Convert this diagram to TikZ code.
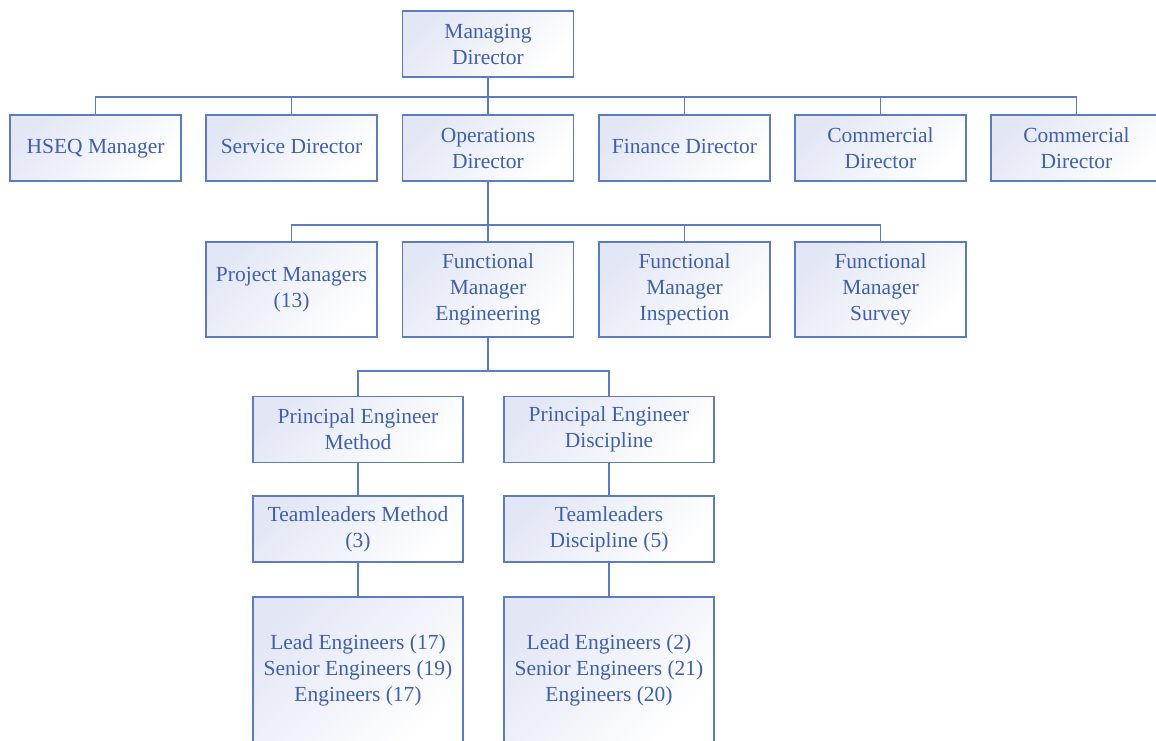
\documentclass[tikz,border=0pt]{standalone}
\usepackage{fontspec}
\setmainfont{Liberation Serif}
\definecolor{edge}{HTML}{5B7CC4}
\definecolor{ink}{HTML}{3F60AE}
\definecolor{lav}{HTML}{E3E7F5}
\begin{document}
\begin{tikzpicture}[x=1pt,y=-1pt,
  box/.style={draw=edge, line width=1.6pt, top color=lav, bottom color=white,
    shading angle=45, text=ink, align=center, inner sep=0pt,
    font=\fontsize{21.5}{26}\selectfont},
  wide/.style={box, minimum width=171pt, minimum height=66pt},
  tall/.style={box, minimum width=171pt, minimum height=95pt},
  pe/.style={box, minimum width=210pt, minimum height=66pt},
  link/.style={draw=edge, line width=1.6pt}]
\useasboundingbox (0,0) rectangle (1156,740);
\clip (0,0) rectangle (1156,740);
% top level
\node[wide] (md) at (488,44) {Managing\\Director};
% directors
\node[wide] (hseq) at (95.5,148) {\strut HSEQ Manager};
\node[wide] (svc)  at (291.5,148) {\strut Service Director};
\node[wide] (ops)  at (488,148) {Operations\\Director};
\node[wide] (fin)  at (684.5,148) {\strut Finance Director};
\node[wide] (com)  at (880.5,148) {Commercial\\Director};
\node[wide] (com2) at (1076.5,148) {Commercial\\Director};
% managers under operations
\node[tall] (pm)  at (291.5,289.5) {Project Managers\\(13)};
\node[tall] (fme) at (488,289.5) {Functional\\Manager\\Engineering};
\node[tall] (fmi) at (684.5,289.5) {Functional\\Manager\\Inspection};
\node[tall] (fms) at (880.5,289.5) {Functional\\Manager\\Survey};
% engineering branch
\node[pe] (pem) at (358,429.5) {Principal Engineer\\Method};
\node[pe] (ped) at (609,429.5) {Principal Engineer\\Discipline};
\node[pe] (tlm) at (358,529) {Teamleaders Method\\(3)};
\node[pe] (tld) at (609,529) {Teamleaders\\Discipline (5)};
\node[pe, minimum height=146pt] (stm) at (358,670) {Lead Engineers (17)\\Senior Engineers (19)\\Engineers (17)};
\node[pe, minimum height=146pt] (std) at (609,670) {Lead Engineers (2)\\Senior Engineers (21)\\Engineers (20)};
% connectors: managing director to directors
\draw[link] (md.south) -- ++(0,19) coordinate (b1);
\draw[link] (hseq.north) |- (b1) -| (com2.north);
\draw[link] (svc.north) -- (svc.north |- b1);
\draw[link] (ops.north) -- (ops.north |- b1);
\draw[link] (fin.north) -- (fin.north |- b1);
\draw[link] (com.north) -- (com.north |- b1);
% operations to managers
\draw[link] (ops.south) -- ++(0,43) coordinate (b2);
\draw[link] (pm.north) |- (b2) -| (fms.north);
\draw[link] (fme.north) -- (fme.north |- b2);
\draw[link] (fmi.north) -- (fmi.north |- b2);
% engineering to principal engineers
\draw[link] (fme.south) -- ++(0,33) coordinate (b3);
\draw[link] (pem.north) |- (b3) -| (ped.north);
% chains below
\draw[link] (pem.south) -- (tlm.north);
\draw[link] (tlm.south) -- (stm.north);
\draw[link] (ped.south) -- (tld.north);
\draw[link] (tld.south) -- (std.north);
\end{tikzpicture}
\end{document}
